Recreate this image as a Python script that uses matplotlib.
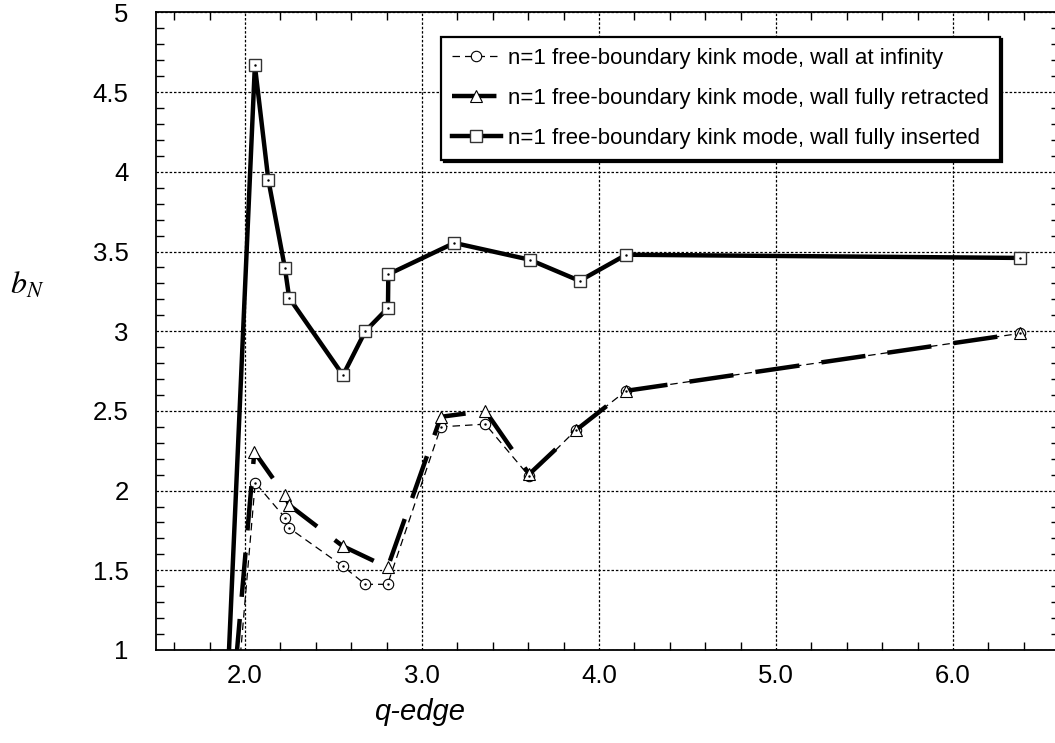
import matplotlib
matplotlib.use('Agg')
from matplotlib import pyplot as plt
from matplotlib.ticker import MultipleLocator, FixedLocator, FixedFormatter

plt.rcParams['font.family'] = ['Liberation Sans', 'DejaVu Sans']
plt.rcParams['mathtext.fontset'] = 'stix'

# wall at infinity (circles)
q_inf = [1.938, 2.058, 2.226, 2.25, 2.552, 2.68, 2.806, 3.107, 3.358, 3.606, 3.870, 4.153, 6.377]
b_inf = [0.5, 2.05, 1.83, 1.765, 1.527, 1.412, 1.412, 2.40, 2.417, 2.09, 2.38, 2.626, 2.986]

# wall fully retracted (triangles)
q_ret = [1.916, 2.053, 2.226, 2.25, 2.552, 2.806, 3.107, 3.358, 3.606, 3.870, 4.153, 6.377]
b_ret = [0.5, 2.243, 1.97, 1.909, 1.652, 1.518, 2.463, 2.50, 2.103, 2.379, 2.626, 2.986]

# wall fully inserted (squares)
q_ins = [1.89, 2.056, 2.132, 2.226, 2.25, 2.554, 2.68, 2.808, 2.81, 3.183, 3.608, 3.891, 4.154, 6.377]
b_ins = [0.5, 4.668, 3.951, 3.395, 3.209, 2.724, 3.0, 3.146, 3.357, 3.554, 3.449, 3.316, 3.48, 3.46]

x_ticks = [2.0, 3.0, 4.0, 5.0, 6.0]
x_labels = ['2.0', '3.0', '4.0', '5.0', '6.0']
y_ticks = [1, 1.5, 2, 2.5, 3, 3.5, 4, 4.5, 5]
y_labels = ['1', '1.5', '2', '2.5', '3', '3.5', '4', '4.5', '5']

labels = ['n=1 free-boundary kink mode, wall at infinity',
          'n=1 free-boundary kink mode, wall fully retracted',
          'n=1 free-boundary kink mode, wall fully inserted']

fig = plt.figure(figsize=(10.55, 7.43), dpi=100)
ax = fig.add_axes([0.1483, 0.1252, 0.8556, 0.858])

l1, = ax.plot(q_inf, b_inf, color='k', lw=0.9, linestyle=(0, (6, 4)),
              marker='o', ms=7.5, mfc='white', mec='k', mew=0.8, zorder=3)
l2, = ax.plot(q_ret, b_ret, color='k', lw=3.2, linestyle=(0, (10, 5)),
              marker='^', ms=9, mfc='white', mec='k', mew=0.8, zorder=4)
l3, = ax.plot(q_ins, b_ins, color='k', lw=3.2, linestyle='-',
              marker='s', ms=8, mfc='white', mec='#333333', mew=1.0, zorder=5)
# small dots in centre of circles and squares
ax.plot(q_inf, b_inf, linestyle='none', marker='.', ms=1.5, color='k', zorder=6)
ax.plot(q_ins, b_ins, linestyle='none', marker='.', ms=1.5, color='k', zorder=6)

ax.set_xlim(1.5, 6.6)
ax.set_ylim(1, 5)

ax.xaxis.set_major_locator(FixedLocator(x_ticks))
ax.xaxis.set_major_formatter(FixedFormatter(x_labels))
ax.xaxis.set_minor_locator(MultipleLocator(0.2))
ax.yaxis.set_major_locator(FixedLocator(y_ticks))
ax.yaxis.set_major_formatter(FixedFormatter(y_labels))
ax.yaxis.set_minor_locator(MultipleLocator(0.1))

ax.tick_params(which='both', direction='in', top=True, right=True, color='k')
ax.tick_params(which='major', length=0, labelsize=18.5)
ax.tick_params(which='minor', length=6, width=1)
ax.tick_params(axis='y', which='major', pad=20)
ax.tick_params(axis='x', which='major', pad=10)

ax.grid(True, which='major', color='k', lw=0.9, linestyle=(0, (2, 1.5)))
for s in ax.spines.values():
    s.set_linewidth(1.3)

fig.text(0.398, 0.042, 'q-edge', fontsize=21, style='italic', ha='center', va='center')
fig.text(0.026, 0.615, r'$b_N$', fontsize=23, ha='center', va='center')

leg = ax.legend([l1, l2, l3], labels, loc='upper right', bbox_to_anchor=(0.934, 0.962),
                borderaxespad=0, fontsize=16, handlelength=2.2, handletextpad=0.3,
                labelspacing=0.85, borderpad=0.5, numpoints=1, fancybox=False,
                framealpha=1, edgecolor='k',
                shadow={'color': 'black', 'alpha': 1})
leg.get_frame().set_linewidth(1.6)
leg.set_zorder(10)

plt.savefig('out.png', dpi=100)
